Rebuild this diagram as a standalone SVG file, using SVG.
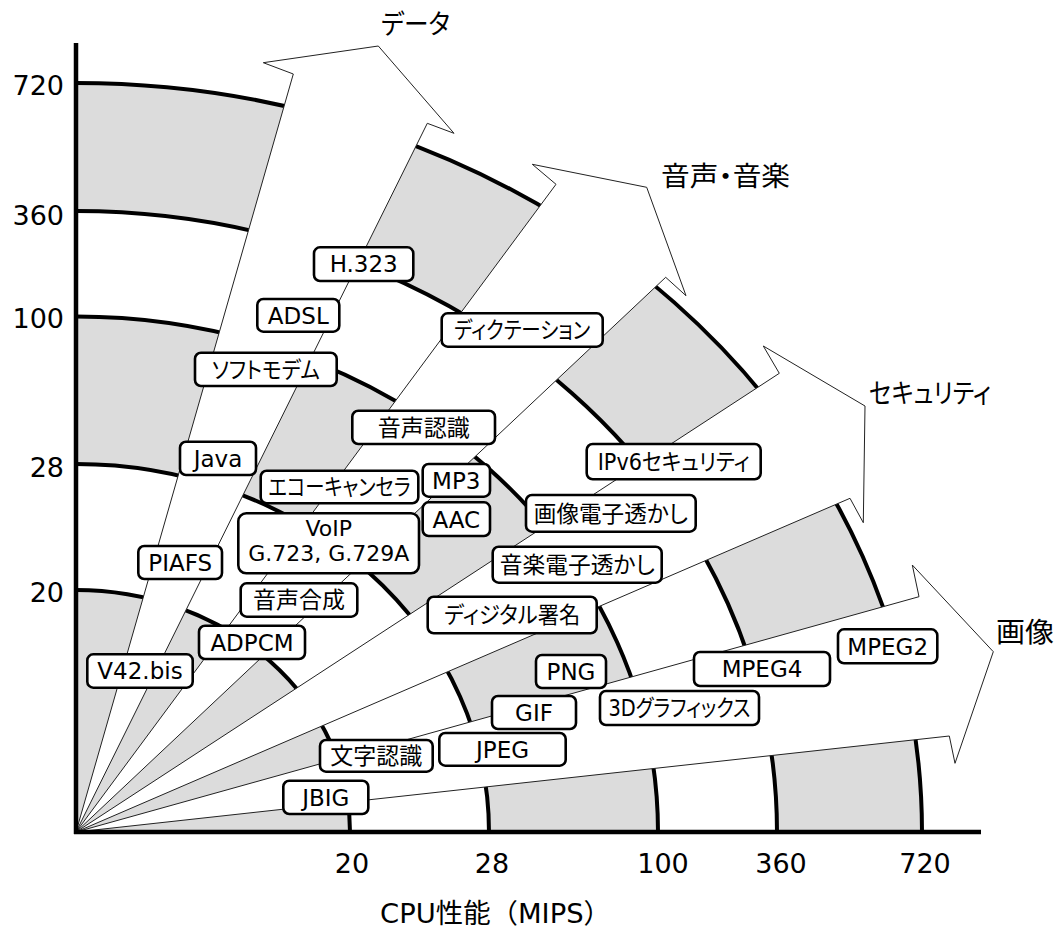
<svg xmlns="http://www.w3.org/2000/svg" width="1061" height="930" viewBox="0 0 1061 930">
<style>
.gray{fill:#dcdcdc;stroke:none}
.white{fill:#ffffff;stroke:none}
.arc{fill:none;stroke:#000;stroke-width:4}
.arrow{fill:#fff;stroke:#222;stroke-width:1;stroke-linejoin:miter}
.axis{stroke:#000;stroke-width:4.5;fill:none}
.box{fill:#fff;stroke:#000;stroke-width:2.6}
.lbl{font-family:"DejaVu Sans","Noto Sans CJK JP",sans-serif;font-size:23px;text-anchor:middle;fill:#000;font-feature-settings:"palt"}
.num{font-family:"DejaVu Sans","Noto Sans CJK JP",sans-serif;font-size:27px;fill:#000}
.title{font-family:"DejaVu Sans","Noto Sans CJK JP",sans-serif;font-size:27px;fill:#000;font-feature-settings:"palt"}
</style>
<rect x="0" y="0" width="1061" height="930" fill="#fff"/>
<g id="bands">
<path class="gray" d="M76,832 L922,832 A846 749 0 0 0 76,83 Z"/>
<path class="white" d="M76,832 L777,832 A701 621 0 0 0 76,211 Z"/>
<path class="gray" d="M76,832 L658,832 A582 515.5 0 0 0 76,316.5 Z"/>
<path class="white" d="M76,832 L489,832 A413 368 0 0 0 76,464 Z"/>
<path class="gray" d="M76,832 L350,832 A274 242 0 0 0 76,590 Z"/>
</g>
<g id="arcs">
<path class="arc" d="M922,832 A846 749 0 0 0 76,83"/>
<path class="arc" d="M777,832 A701 621 0 0 0 76,211"/>
<path class="arc" d="M658,832 A582 515.5 0 0 0 76,316.5"/>
<path class="arc" d="M489,832 A413 368 0 0 0 76,464"/>
<path class="arc" d="M350,832 A274 242 0 0 0 76,590"/>
</g>
<g id="connectors">
<g id="arrow-data">
<polygon class="arrow" points="76,832 293.3,74 263.3,62.7 378.3,46 454,133.3 427.3,123.3"/>
<text class="title" x="381" y="34" textLength="69" lengthAdjust="spacingAndGlyphs">データ</text>
</g>
<g id="arrow-audio">
<polygon class="arrow" points="76,832 556,184.3 532.3,164.3 646.7,187.3 686,295.7 665.7,277.3"/>
<text class="title" x="661" y="186" textLength="129" lengthAdjust="spacingAndGlyphs">音声・音楽</text>
</g>
<g id="arrow-security">
<polygon class="arrow" points="76,832 779.3,373.3 763.3,346 865,406 863.3,522.7 850,498.3"/>
<text class="title" x="869" y="403" textLength="122" lengthAdjust="spacingAndGlyphs">セキュリティ</text>
</g>
<g id="arrow-image">
<polygon class="arrow" points="76,832 919,596.7 912.3,565 993.3,651.7 955,763.3 949.3,736"/>
<text class="title" x="996" y="642" textLength="58" lengthAdjust="spacingAndGlyphs">画像</text>
</g>
</g>
<g id="axes">
<line class="axis" x1="76" y1="43" x2="76" y2="834"/>
<line class="axis" x1="74" y1="832" x2="981" y2="832"/>
</g>
<g id="y-labels" class="num" text-anchor="end">
<text x="64" y="95">720</text>
<text x="64" y="225">360</text>
<text x="64" y="328">100</text>
<text x="64" y="477">28</text>
<text x="64" y="602">20</text>
</g>
<g id="x-labels" class="num" text-anchor="middle">
<text x="352" y="873">20</text>
<text x="492" y="873">28</text>
<text x="663" y="873">100</text>
<text x="781" y="873">360</text>
<text x="925" y="873">720</text>
</g>
<text id="x-title" x="380" y="923" textLength="231" lengthAdjust="spacingAndGlyphs" style="font-family:'DejaVu Sans','Noto Sans CJK JP',sans-serif;font-size:27px">CPU性能（MIPS）</text>
<g id="n-h323"><rect class="box" x="314" y="247.3" width="99.3" height="33.7" rx="6"/><text class="lbl" x="363.7" y="272">H.323</text></g>
<g id="n-adsl"><rect class="box" x="257.3" y="299" width="82" height="32.7" rx="6"/><text class="lbl" x="298.3" y="323.5">ADSL</text></g>
<g id="n-softmodem"><rect class="box" x="195" y="352.7" width="141.7" height="33.3" rx="6"/><text class="lbl" x="265.8" y="377.5" textLength="108" lengthAdjust="spacingAndGlyphs">ソフトモデム</text></g>
<g id="n-java"><rect class="box" x="180" y="441.7" width="76" height="33.3" rx="6"/><text class="lbl" x="218" y="466.5">Java</text></g>
<g id="n-piafs"><rect class="box" x="138.3" y="546" width="83.7" height="33" rx="6"/><text class="lbl" x="180.2" y="570.5">PIAFS</text></g>
<g id="n-v42bis"><rect class="box" x="87.3" y="654.3" width="105.4" height="33.4" rx="6"/><text class="lbl" x="140" y="679">V42.bis</text></g>
<g id="n-adpcm"><rect class="box" x="199" y="625.7" width="106" height="33.3" rx="6"/><text class="lbl" x="252" y="650.5">ADPCM</text></g>
<g id="n-onseigousei"><rect class="box" x="240.7" y="583.3" width="116.6" height="33.4" rx="6"/><text class="lbl" x="299" y="608">音声合成</text></g>
<g id="n-voip"><rect class="box" x="238.3" y="513.3" width="180.7" height="60" rx="8"/><text class="lbl" x="328.7" y="536" style="font-size:22px">VoIP</text><text class="lbl" x="328.7" y="561" style="font-size:22px">G.723, G.729A</text></g>
<g id="n-echo"><rect class="box" x="260.7" y="470.7" width="157.6" height="32.6" rx="6"/><text class="lbl" x="339.5" y="495" textLength="142" lengthAdjust="spacingAndGlyphs">エコーキャンセラ</text></g>
<g id="n-mp3"><rect class="box" x="422.7" y="464" width="67.3" height="32.7" rx="6"/><text class="lbl" x="456.3" y="488.5">MP3</text></g>
<g id="n-aac"><rect class="box" x="422.7" y="502.3" width="67.3" height="33.7" rx="6"/><text class="lbl" x="456.3" y="527.5">AAC</text></g>
<g id="n-onseininshiki"><rect class="box" x="352.3" y="410.7" width="142.7" height="33.3" rx="6"/><text class="lbl" x="423.7" y="435.5">音声認識</text></g>
<g id="n-dictation"><rect class="box" x="441.7" y="313.3" width="161" height="33.4" rx="6"/><text class="lbl" x="522.2" y="338" textLength="136" lengthAdjust="spacingAndGlyphs">ディクテーション</text></g>
<g id="n-ipv6"><rect class="box" x="586.7" y="444" width="174" height="35.3" rx="6"/><text class="lbl" x="673.7" y="470" textLength="152" lengthAdjust="spacingAndGlyphs">IPv6セキュリティ</text></g>
<g id="n-imagewm"><rect class="box" x="526" y="495" width="169.7" height="36.7" rx="6"/><text class="lbl" x="610.8" y="521.5" textLength="154" lengthAdjust="spacingAndGlyphs">画像電子透かし</text></g>
<g id="n-musicwm"><rect class="box" x="492.7" y="546.7" width="169" height="36" rx="6"/><text class="lbl" x="577.2" y="573" textLength="155" lengthAdjust="spacingAndGlyphs">音楽電子透かし</text></g>
<g id="n-digsig"><rect class="box" x="427.7" y="596.7" width="169" height="36.6" rx="6"/><text class="lbl" x="512.2" y="623" textLength="136" lengthAdjust="spacingAndGlyphs">ディジタル署名</text></g>
<g id="n-png"><rect class="box" x="536" y="655" width="70" height="33" rx="6"/><text class="lbl" x="571" y="680">PNG</text></g>
<g id="n-mpeg4"><rect class="box" x="694" y="652" width="136" height="34" rx="6"/><text class="lbl" x="762" y="677">MPEG4</text></g>
<g id="n-mpeg2"><rect class="box" x="838" y="629.3" width="99.3" height="34" rx="6"/><text class="lbl" x="887.7" y="654.5">MPEG2</text></g>
<g id="n-gif"><rect class="box" x="492" y="696" width="84" height="33" rx="6"/><text class="lbl" x="534" y="720.5">GIF</text></g>
<g id="n-3d"><rect class="box" x="600" y="691" width="159" height="34" rx="6"/><text class="lbl" x="679.5" y="716" textLength="142" lengthAdjust="spacingAndGlyphs">3Dグラフィックス</text></g>
<g id="n-moji"><rect class="box" x="320" y="740" width="112.7" height="31.7" rx="6"/><text class="lbl" x="376.3" y="764">文字認識</text></g>
<g id="n-jpeg"><rect class="box" x="439.3" y="733" width="126.4" height="32.7" rx="6"/><text class="lbl" x="502.5" y="757.5">JPEG</text></g>
<g id="n-jbig"><rect class="box" x="283.3" y="780.7" width="85" height="33.3" rx="6"/><text class="lbl" x="325.8" y="805.5">JBIG</text></g>
</svg>
